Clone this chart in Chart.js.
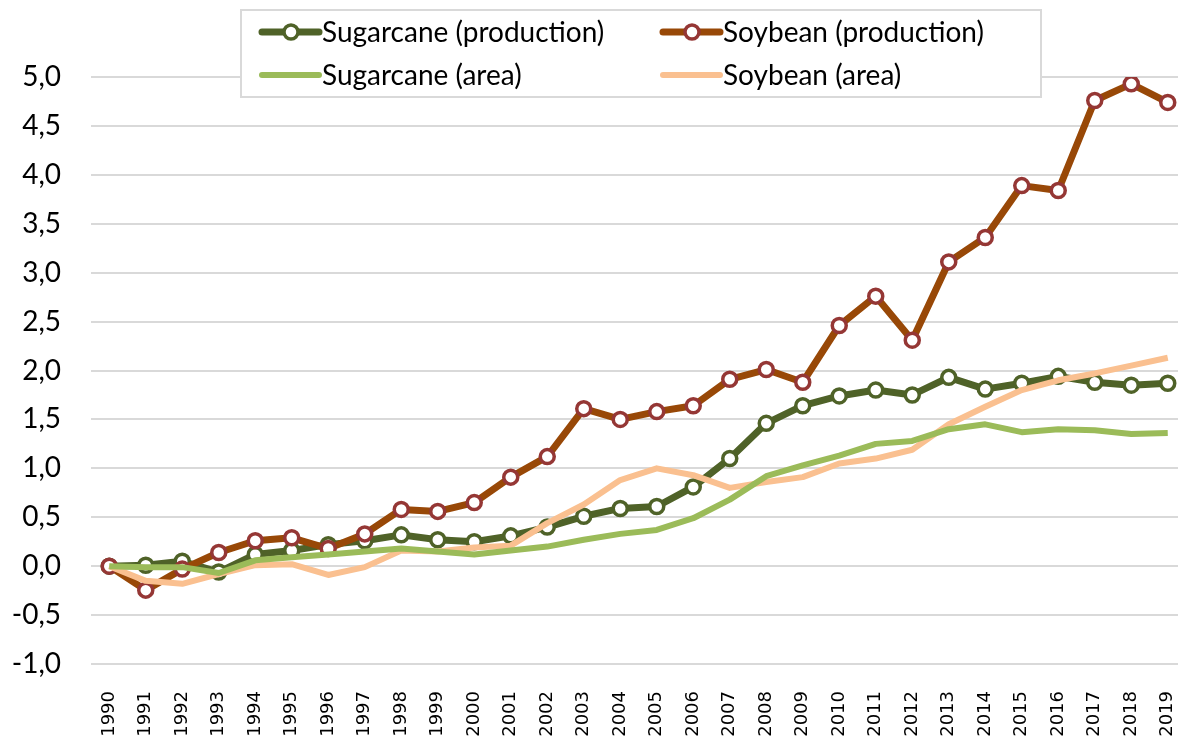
<!DOCTYPE html>
<html>
<head>
<meta charset="utf-8">
<script src="https://cdn.jsdelivr.net/npm/chart.js@4/dist/chart.umd.min.js"></script>
<style>
  html { overflow: hidden; }
  html, body { margin: 0; padding: 0; background: #fff; width: 1186px; }
  #wrap { position: relative; width: 1186px; height: 742px; }
</style>
</head>
<body>
<div id="wrap"><canvas id="cropChart"></canvas></div>
<script>
const years = ["1990", "1991", "1992", "1993", "1994", "1995", "1996", "1997", "1998", "1999",
  "2000", "2001", "2002", "2003", "2004", "2005", "2006", "2007", "2008", "2009",
  "2010", "2011", "2012", "2013", "2014", "2015", "2016", "2017", "2018", "2019"];

const sugarcaneProduction = [0, 0.01, 0.05, -0.06, 0.12, 0.16, 0.22, 0.26, 0.32, 0.27,
  0.25, 0.31, 0.40, 0.51, 0.59, 0.61, 0.81, 1.10, 1.46, 1.64,
  1.74, 1.80, 1.75, 1.93, 1.81, 1.87, 1.94, 1.88, 1.85, 1.87];

const soybeanProduction = [0, -0.245, -0.03, 0.14, 0.26, 0.29, 0.18, 0.33, 0.58, 0.56,
  0.65, 0.91, 1.12, 1.61, 1.50, 1.58, 1.64, 1.91, 2.01, 1.88,
  2.46, 2.76, 2.31, 3.11, 3.36, 3.89, 3.84, 4.76, 4.93, 4.74];

const sugarcaneArea = [0, -0.01, -0.01, -0.07, 0.06, 0.09, 0.12, 0.15, 0.18, 0.15,
  0.12, 0.16, 0.20, 0.27, 0.33, 0.37, 0.49, 0.68, 0.92, 1.03,
  1.13, 1.25, 1.28, 1.40, 1.45, 1.37, 1.40, 1.39, 1.35, 1.36];

const soybeanArea = [0, -0.15, -0.18, -0.08, 0.01, 0.02, -0.09, -0.01, 0.16, 0.15,
  0.19, 0.21, 0.44, 0.63, 0.88, 1.00, 0.93, 0.80, 0.86, 0.91,
  1.05, 1.10, 1.19, 1.45, 1.63, 1.80, 1.90, 1.97, 2.05, 2.13];

const yMin = -1, yMax = 5, yStep = 0.5;

// legend drawn by hand so the line + ring marker look like the original
const boxLegend = {
  id: "boxLegend",
  afterDraw(chart) {
    const c = chart.ctx;
    c.save();
    c.fillStyle = "#fff";
    c.fillRect(241, 10, 800, 87);
    c.strokeStyle = "#d9d9d9";
    c.lineWidth = 2;
    c.strokeRect(241, 10, 800, 87);
    const slots = [[262, 32], [663, 32], [262, 75], [663, 75]];
    chart.data.datasets.forEach((ds, i) => {
      const [x, y] = slots[i];
      c.strokeStyle = ds.borderColor;
      c.lineWidth = ds.borderWidth;
      c.lineCap = "round";
      c.beginPath();
      c.moveTo(x, y);
      c.lineTo(x + 57, y);
      c.stroke();
      if (ds.pointRadius > 0) {
        c.beginPath();
        c.arc(x + 29, y, ds.pointRadius, 0, Math.PI * 2);
        c.fillStyle = "#fff";
        c.fill();
        c.lineWidth = ds.pointBorderWidth;
        c.strokeStyle = ds.pointBorderColor;
        c.stroke();
      }
      c.fillStyle = "#000";
      c.font = "28px Lato";
      c.textBaseline = "middle";
      c.fillText(ds.label, x + 60, y + 1);
    });
    c.restore();
  },
};

const ctx = document.getElementById("cropChart").getContext("2d");
const cropChart = new Chart(ctx, {
  type: "line",
  data: {
    labels: years,
    datasets: [
      {
        label: "Sugarcane (production)",
        data: sugarcaneProduction,
        borderColor: "#4f6228",
        borderWidth: 7,
        pointRadius: 7,
        pointBorderWidth: 3.5,
        pointBackgroundColor: "#fff",
        pointBorderColor: "#4f6228",
        order: 2,
      },
      {
        label: "Soybean (production)",
        data: soybeanProduction,
        borderColor: "#984807",
        borderWidth: 7,
        pointRadius: 7,
        pointBorderWidth: 3.5,
        pointBackgroundColor: "#fff",
        pointBorderColor: "#953735",
        order: 1,
      },
      {
        label: "Sugarcane (area)",
        data: sugarcaneArea,
        borderColor: "#9bbb59",
        borderWidth: 6,
        pointRadius: 0,
        order: 0,
      },
      {
        label: "Soybean (area)",
        data: soybeanArea,
        borderColor: "#fac090",
        borderWidth: 6,
        pointRadius: 0,
        order: 0,
      },
    ],
  },
  options: {
    responsive: true,
    maintainAspectRatio: false,
    animation: false,
    layout: { autoPadding: false, padding: { top: 77, left: 0, right: 0, bottom: 0 } },
    plugins: {
      legend: { display: false },
      tooltip: { enabled: false },
    },
    elements: { line: { tension: 0, borderJoinStyle: "round" } },
    scales: {
      x: {
        offset: true,
        grid: { display: false },
        border: { display: false },
        afterFit: (axis) => {
          axis.height = 78;
          axis.paddingLeft = 0;
          axis.paddingRight = 0;
        },
        ticks: {
          autoSkip: false,
          minRotation: 90,
          maxRotation: 90,
          padding: 19,
          color: "#000",
          font: { family: "DejaVu Sans", size: 18 },
        },
      },
      y: {
        min: yMin,
        max: yMax,
        border: { display: false },
        grid: { color: "#d9d9d9", lineWidth: 2, drawTicks: false },
        afterFit: (axis) => { axis.width = 91; },
        ticks: {
          stepSize: yStep,
          padding: 30,
          color: "#000",
          font: { family: "Lato", size: 28 },
          callback: (v) => v.toFixed(1).replace(".", ","),
        },
      },
    },
  },
  plugins: [boxLegend],
});
</script>
</body>
</html>
